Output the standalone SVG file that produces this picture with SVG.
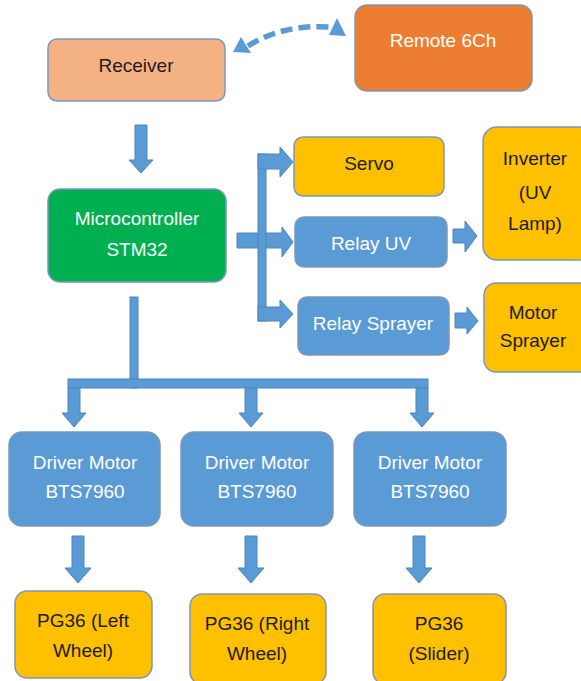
<svg xmlns="http://www.w3.org/2000/svg" width="581" height="681" viewBox="0 0 581 681">
<style>
  .box{stroke:#7e97b8;stroke-width:1.5}
  .blue{fill:#5B9BD5}
  .yel{fill:#FFC000}
  .t{font-family:"Liberation Sans",Arial,sans-serif;font-size:19px;text-anchor:middle}
  .dk{fill:#1c1c1c}
  .wt{fill:#ffffff}
  .arr{fill:#5B9BD5;stroke:#4a86c0;stroke-width:1}
</style>
<rect width="581" height="681" fill="#ffffff"/>
<g id="connectors">
  <path d="M 248 46 Q 283 24 329 27" fill="none" stroke="#5B9BD5" stroke-width="5.5" stroke-dasharray="12 6"/>
  <polygon points="233,52 241,37 251,53" fill="#5B9BD5"/>
  <polygon points="329,35 337,18 346,36" fill="#5B9BD5"/>
  <polygon class="arr" points="135,125 147,125 147,160 153,160 141,173 129,160 135,160"/>
  <polygon class="arr" points="237,233 282,233 282,227 293,242 282,257 282,248 237,248"/>
  <rect class="arr" x="258" y="154" width="8" height="167"/>
  <polygon class="arr" points="258,154 280,154 280,147 293,162 280,177 280,169 258,169"/>
  <polygon class="arr" points="258,307 280,307 280,300 293,314 280,328 280,321 258,321"/>
  <polygon class="arr" points="453,229 465,229 465,221 477,236 465,252 465,243 453,243"/>
  <polygon class="arr" points="455,313 467,313 467,307 478,321 467,334 467,328 455,328"/>
  <rect class="arr" x="130" y="297" width="8" height="91"/>
  <rect class="arr" x="68" y="379" width="360" height="9"/>
  <polygon class="arr" points="68,388 80,388 80,413 86,413 74,427 62,413 68,413"/>
  <polygon class="arr" points="245,388 257,388 257,413 263,413 251,427 239,413 245,413"/>
  <polygon class="arr" points="416,388 428,388 428,413 434,413 422,427 410,413 416,413"/>
  <polygon class="arr" points="72,536 84,536 84,568 91,568 78,583 65,568 72,568"/>
  <polygon class="arr" points="245,536 257,536 257,568 264,568 251,583 238,568 245,568"/>
  <polygon class="arr" points="413,536 425,536 425,568 432,568 419,583 406,568 413,568"/>
</g>
<g id="receiver">
  <rect class="box" x="48" y="39" width="177" height="62" rx="9" fill="#F4B183"/>
  <text class="t dk" x="136" y="72">Receiver</text>
</g>
<g id="remote">
  <rect class="box" x="355" y="5" width="177" height="86" rx="12" fill="#ED7D31"/>
  <text class="t wt" x="443" y="47">Remote 6Ch</text>
</g>
<g id="microcontroller">
  <rect class="box" x="48" y="189" width="178" height="93" rx="12" fill="#00B050"/>
  <text class="t wt" x="137" y="225">Microcontroller</text>
  <text class="t wt" x="137" y="256">STM32</text>
</g>
<g id="servo">
  <rect class="box yel" x="294" y="137" width="150" height="59" rx="9"/>
  <text class="t dk" x="369" y="170">Servo</text>
</g>
<g id="relay-uv">
  <rect class="box blue" x="295" y="217" width="152" height="50" rx="9"/>
  <text class="t wt" x="371" y="250">Relay UV</text>
</g>
<g id="relay-sprayer">
  <rect class="box blue" x="298" y="297" width="151" height="58" rx="9"/>
  <text class="t wt" x="373" y="330">Relay Sprayer</text>
</g>
<g id="inverter">
  <rect class="box yel" x="483" y="127" width="110" height="133" rx="14"/>
  <text class="t dk" x="535" y="165">Inverter</text>
  <text class="t dk" x="535" y="199">(UV</text>
  <text class="t dk" x="535" y="230">Lamp)</text>
</g>
<g id="motor-sprayer">
  <rect class="box yel" x="484" y="283" width="110" height="89" rx="12"/>
  <text class="t dk" x="533" y="319">Motor</text>
  <text class="t dk" x="533" y="347">Sprayer</text>
</g>
<g id="driver1">
  <rect class="box blue" x="9" y="432" width="151" height="94" rx="13"/>
  <text class="t wt" x="85" y="469">Driver Motor</text>
  <text class="t wt" x="85" y="498">BTS7960</text>
</g>
<g id="driver2">
  <rect class="box blue" x="181" y="432" width="152" height="94" rx="13"/>
  <text class="t wt" x="257" y="469">Driver Motor</text>
  <text class="t wt" x="257" y="498">BTS7960</text>
</g>
<g id="driver3">
  <rect class="box blue" x="354" y="432" width="152" height="94" rx="13"/>
  <text class="t wt" x="430" y="469">Driver Motor</text>
  <text class="t wt" x="430" y="498">BTS7960</text>
</g>
<g id="pg36-left">
  <rect class="box yel" x="15" y="591" width="137" height="87" rx="12"/>
  <text class="t dk" x="83" y="627">PG36 (Left</text>
  <text class="t dk" x="83" y="657">Wheel)</text>
</g>
<g id="pg36-right">
  <rect class="box yel" x="190" y="594" width="136" height="90" rx="12"/>
  <text class="t dk" x="257" y="630">PG36 (Right</text>
  <text class="t dk" x="257" y="660">Wheel)</text>
</g>
<g id="pg36-slider">
  <rect class="box yel" x="373" y="594" width="133" height="90" rx="12"/>
  <text class="t dk" x="439" y="630">PG36</text>
  <text class="t dk" x="439" y="660">(Slider)</text>
</g>
</svg>
